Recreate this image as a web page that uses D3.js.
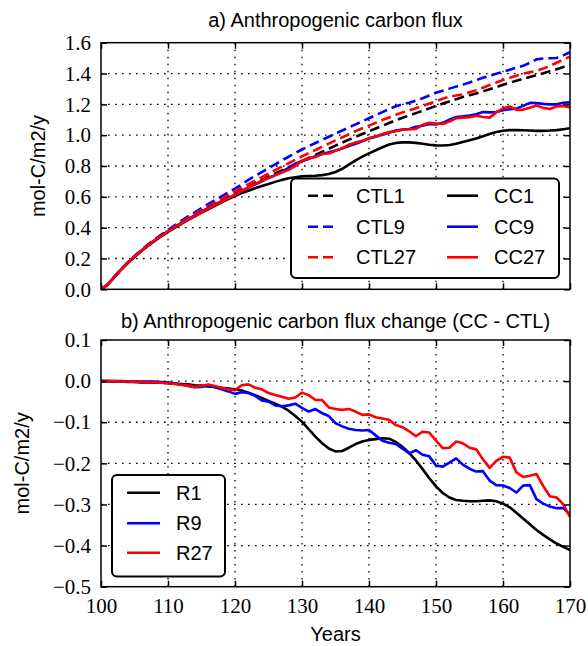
<!DOCTYPE html>
<html><head><meta charset="utf-8">
<script src="https://cdn.jsdelivr.net/npm/d3@7"></script>
<style>body{margin:0;background:#fff}svg{display:block}</style>
</head><body>
<script>
const years = d3.range(100, 171);
const ctl1 = [0.000,0.030,0.080,0.128,0.172,0.212,0.250,0.285,0.318,0.348,0.377,0.405,0.432,0.458,0.483,0.508,0.532,0.556,0.580,0.603,0.625,0.647,0.668,0.690,0.711,0.731,0.752,0.772,0.792,0.812,0.832,0.852,0.872,0.892,0.912,0.932,0.952,0.971,0.990,1.008,1.025,1.043,1.061,1.079,1.097,1.113,1.128,1.143,1.158,1.174,1.190,1.205,1.219,1.233,1.247,1.259,1.271,1.284,1.298,1.312,1.327,1.340,1.353,1.366,1.378,1.390,1.402,1.415,1.428,1.442,1.456];
const ctl9 = [0.000,0.031,0.082,0.130,0.175,0.216,0.254,0.290,0.324,0.355,0.385,0.415,0.445,0.473,0.500,0.527,0.553,0.578,0.603,0.628,0.653,0.680,0.710,0.735,0.760,0.786,0.811,0.836,0.860,0.884,0.907,0.928,0.949,0.970,0.990,1.010,1.030,1.050,1.070,1.090,1.110,1.130,1.150,1.170,1.188,1.200,1.210,1.225,1.240,1.257,1.275,1.288,1.302,1.315,1.328,1.342,1.357,1.372,1.385,1.398,1.412,1.425,1.438,1.450,1.470,1.492,1.497,1.499,1.501,1.518,1.538];
const ctl27 = [0.000,0.030,0.081,0.129,0.174,0.214,0.252,0.288,0.321,0.351,0.380,0.409,0.437,0.464,0.490,0.515,0.540,0.564,0.588,0.612,0.636,0.659,0.682,0.705,0.728,0.751,0.773,0.796,0.818,0.840,0.862,0.883,0.904,0.925,0.945,0.966,0.986,1.006,1.026,1.045,1.062,1.080,1.098,1.115,1.132,1.148,1.160,1.175,1.190,1.205,1.220,1.236,1.250,1.257,1.265,1.278,1.292,1.308,1.325,1.342,1.358,1.372,1.386,1.399,1.408,1.418,1.432,1.450,1.470,1.490,1.510];
const cc1 = [0.000,0.030,0.079,0.127,0.170,0.210,0.247,0.282,0.314,0.344,0.372,0.399,0.425,0.450,0.473,0.497,0.519,0.542,0.564,0.585,0.605,0.624,0.640,0.656,0.670,0.683,0.697,0.710,0.720,0.727,0.733,0.735,0.737,0.741,0.748,0.761,0.782,0.809,0.837,0.861,0.882,0.902,0.922,0.939,0.949,0.953,0.953,0.950,0.944,0.938,0.934,0.933,0.936,0.944,0.956,0.967,0.979,0.993,1.008,1.020,1.029,1.033,1.033,1.032,1.030,1.028,1.028,1.030,1.033,1.039,1.045];
const cc9 = [0.000,0.031,0.081,0.129,0.173,0.213,0.250,0.285,0.318,0.349,0.378,0.405,0.431,0.456,0.480,0.504,0.528,0.550,0.572,0.593,0.613,0.636,0.660,0.680,0.700,0.722,0.741,0.764,0.787,0.815,0.832,0.846,0.864,0.876,0.889,0.900,0.914,0.929,0.944,0.961,0.978,0.990,1.002,1.016,1.030,1.036,1.040,1.055,1.061,1.072,1.070,1.080,1.100,1.118,1.122,1.128,1.136,1.150,1.148,1.150,1.162,1.168,1.172,1.190,1.210,1.208,1.203,1.200,1.200,1.210,1.213];
const cc27 = [0.000,0.030,0.081,0.128,0.173,0.212,0.250,0.285,0.318,0.347,0.375,0.402,0.428,0.453,0.476,0.500,0.524,0.547,0.569,0.590,0.612,0.638,0.662,0.684,0.704,0.722,0.739,0.758,0.775,0.800,0.834,0.849,0.858,0.879,0.881,0.898,0.916,0.938,0.952,0.963,0.981,0.992,1.007,1.021,1.025,1.036,1.038,1.041,1.067,1.080,1.075,1.073,1.088,1.110,1.114,1.116,1.126,1.118,1.114,1.148,1.174,1.186,1.164,1.166,1.178,1.192,1.177,1.170,1.187,1.190,1.180];
const r1 = [0.000,0.000,-0.001,-0.001,-0.002,-0.002,-0.003,-0.003,-0.004,-0.004,-0.005,-0.006,-0.007,-0.008,-0.010,-0.011,-0.013,-0.014,-0.016,-0.018,-0.020,-0.023,-0.028,-0.034,-0.041,-0.048,-0.055,-0.062,-0.072,-0.085,-0.099,-0.117,-0.135,-0.151,-0.164,-0.171,-0.170,-0.162,-0.153,-0.147,-0.143,-0.141,-0.139,-0.140,-0.148,-0.160,-0.175,-0.193,-0.214,-0.236,-0.256,-0.272,-0.283,-0.289,-0.291,-0.292,-0.292,-0.291,-0.290,-0.292,-0.298,-0.307,-0.320,-0.334,-0.348,-0.362,-0.374,-0.385,-0.395,-0.403,-0.411];
const r9 = [0.000,0.000,0.000,0.000,-0.001,-0.001,-0.001,-0.001,-0.001,-0.002,-0.003,-0.006,-0.009,-0.012,-0.015,-0.014,-0.010,-0.015,-0.020,-0.025,-0.031,-0.027,-0.029,-0.036,-0.047,-0.050,-0.059,-0.061,-0.059,-0.055,-0.065,-0.074,-0.068,-0.078,-0.085,-0.102,-0.110,-0.116,-0.119,-0.120,-0.119,-0.132,-0.145,-0.150,-0.153,-0.164,-0.176,-0.168,-0.179,-0.183,-0.205,-0.208,-0.198,-0.188,-0.203,-0.213,-0.220,-0.219,-0.242,-0.253,-0.254,-0.260,-0.271,-0.254,-0.253,-0.287,-0.298,-0.305,-0.309,-0.309,-0.325];
const r27 = [0.000,0.000,0.000,-0.001,-0.001,-0.002,-0.002,-0.003,-0.003,-0.004,-0.005,-0.007,-0.009,-0.011,-0.014,-0.012,-0.008,-0.012,-0.017,-0.020,-0.022,-0.010,-0.008,-0.016,-0.020,-0.029,-0.034,-0.038,-0.043,-0.040,-0.028,-0.034,-0.046,-0.046,-0.064,-0.068,-0.070,-0.068,-0.074,-0.082,-0.081,-0.088,-0.091,-0.094,-0.107,-0.112,-0.122,-0.134,-0.123,-0.125,-0.145,-0.163,-0.162,-0.147,-0.151,-0.162,-0.166,-0.190,-0.211,-0.194,-0.184,-0.186,-0.222,-0.233,-0.230,-0.226,-0.255,-0.280,-0.283,-0.300,-0.330];

const xTicks = [100,110,120,130,140,150,160,170];
const yTicksTop = [0.0,0.2,0.4,0.6,0.8,1.0,1.2,1.4,1.6];
const yTicksBot = [-0.5,-0.4,-0.3,-0.2,-0.1,0.0,0.1];

const topSeries = [
  {name:"CTL1", v:ctl1, color:"#000000", dash:true},
  {name:"CTL9", v:ctl9, color:"#0000ff", dash:true},
  {name:"CTL27", v:ctl27, color:"#ff0000", dash:true},
  {name:"CC1", v:cc1, color:"#000000", dash:false},
  {name:"CC9", v:cc9, color:"#0000ff", dash:false},
  {name:"CC27", v:cc27, color:"#ff0000", dash:false}
];
const botSeries = [
  {name:"R1", v:r1, color:"#000000"},
  {name:"R9", v:r9, color:"#0000ff"},
  {name:"R27", v:r27, color:"#ff0000"}
];

const W = 588, H = 646;
const L = 101, R = 570;
const svg = d3.select("body").append("svg").attr("width", W).attr("height", H);
const SANS = "Liberation Sans, Arial, sans-serif";
const SERIF = "Liberation Serif, Times New Roman, serif";

const x = d3.scaleLinear().domain([100,170]).range([L,R]);

function styleTicks(a) {
  a.attr("font-family", SERIF).attr("font-size", 21);
  a.selectAll("text").attr("fill","#000")
    .attr("font-family", SERIF).attr("font-size", 21)
    .style("font-family", SERIF).style("font-size", "21px");
}

function panel(cfg) {
  const y = d3.scaleLinear().domain(cfg.domain).range([cfg.bottom, cfg.top]);
  const g = svg.append("g");
  const clipId = "clip" + cfg.id;
  svg.append("clipPath").attr("id", clipId).append("rect")
    .attr("x", L).attr("y", cfg.top).attr("width", R-L).attr("height", cfg.bottom-cfg.top);
  g.append("g").selectAll("line").data(xTicks.slice(1,-1)).join("line")
    .attr("x1", d=>x(d)).attr("x2", d=>x(d)).attr("y1", cfg.top).attr("y2", cfg.bottom)
    .attr("stroke","#000").attr("stroke-width",1.3).attr("stroke-dasharray","1.6,5.4");
  g.append("g").selectAll("line").data(cfg.ticks.slice(1,-1)).join("line")
    .attr("y1", d=>y(d)).attr("y2", d=>y(d)).attr("x1", L).attr("x2", R)
    .attr("stroke","#000").attr("stroke-width",1.3).attr("stroke-dasharray","1.6,5.4");
  const line = d3.line().x((d,i)=>x(years[i])).y(d=>y(d));
  const lg = g.append("g").attr("clip-path", `url(#${clipId})`);
  cfg.series.forEach(s => {
    lg.append("path").attr("d", line(s.v)).attr("fill","none")
      .attr("stroke", s.color).attr("stroke-width", 2.6)
      .attr("stroke-linejoin","round")
      .attr("stroke-dasharray", s.dash ? "10,5" : null);
  });
  const fmt = d3.format(".1f");
  const ax = g.append("g").attr("transform", `translate(${L},0)`)
    .call(d3.axisLeft(y).tickValues(cfg.ticks).tickSize(-6).tickPadding(10).tickFormat(fmt));
  const axr = g.append("g").attr("transform", `translate(${R},0)`)
    .call(d3.axisRight(y).tickValues(cfg.ticks).tickSize(-6).tickFormat(""));
  const axt = g.append("g").attr("transform", `translate(0,${cfg.top})`)
    .call(d3.axisTop(x).tickValues(xTicks).tickSize(-6).tickFormat(""));
  const axb = g.append("g").attr("transform", `translate(0,${cfg.bottom})`)
    .call(d3.axisBottom(x).tickValues(xTicks).tickSize(-6).tickPadding(11)
      .tickFormat(cfg.xlabels ? d3.format("d") : ""));
  [ax,axr,axt,axb].forEach(a => {
    a.select(".domain").remove();
    a.selectAll(".tick line").attr("stroke","#000").attr("stroke-width",1.5);
    styleTicks(a);
  });
  g.append("rect").attr("x", L).attr("y", cfg.top).attr("width", R-L).attr("height", cfg.bottom-cfg.top)
    .attr("fill","none").attr("stroke","#000").attr("stroke-width",1.5);
  g.append("text").attr("x", (L+R)/2).attr("y", cfg.titleY).attr("text-anchor","middle")
    .attr("font-family", SANS).attr("font-size", 20).text(cfg.title);
  g.append("text").attr("transform", `translate(${cfg.ylabX},${(cfg.top+cfg.bottom)/2}) rotate(-90)`)
    .attr("text-anchor","middle").attr("font-family", SANS).attr("font-size", 20).text("mol-C/m2/y");
  return {g, y};
}

panel({id:"a", domain:[0,1.6], top:42.7, bottom:289.3, ticks:yTicksTop, series:topSeries,
  title:"a) Anthropogenic carbon flux", titleY:27, ylabX:45, xlabels:false});
panel({id:"b", domain:[-0.5,0.1], top:340, bottom:586.7, ticks:yTicksBot, series:botSeries,
  title:"b) Anthropogenic carbon flux change (CC - CTL)", titleY:328, ylabX:29, xlabels:true});

svg.append("text").attr("x", (L+R)/2).attr("y", 641).attr("text-anchor","middle")
  .attr("font-family", SANS).attr("font-size", 20).text("Years");

function legend(box, items, cols) {
  const lg = svg.append("g");
  lg.append("rect").attr("x", box.x).attr("y", box.y).attr("width", box.w).attr("height", box.h)
    .attr("rx", 5).attr("ry", 5).attr("fill","#fff").attr("stroke","#000").attr("stroke-width",2);
  items.forEach((s,i) => {
    const c = Math.floor(i / box.rows.length), r = i % box.rows.length;
    const col = cols[c];
    const yy = box.rows[r];
    lg.append("line").attr("x1", col.x1).attr("x2", col.x2).attr("y1", yy).attr("y2", yy)
      .attr("stroke", s.color).attr("stroke-width", 2.6).attr("stroke-dasharray", s.dash ? "10,5" : null);
    lg.append("text").attr("x", col.tx).attr("y", yy + 7).attr("font-family", SANS).attr("font-size", 20).text(s.name);
  });
}
legend({x:291, y:178.5, w:268, h:99.5, rows:[195.7,226.7,257.3]}, topSeries,
  [{x1:308, x2:336, tx:356}, {x1:447, x2:478, tx:494}]);
legend({x:112, y:475, w:113, h:101.5, rows:[492.7,523.3,552.7]}, botSeries,
  [{x1:127, x2:160, tx:176}]);
</script>
</body></html>
